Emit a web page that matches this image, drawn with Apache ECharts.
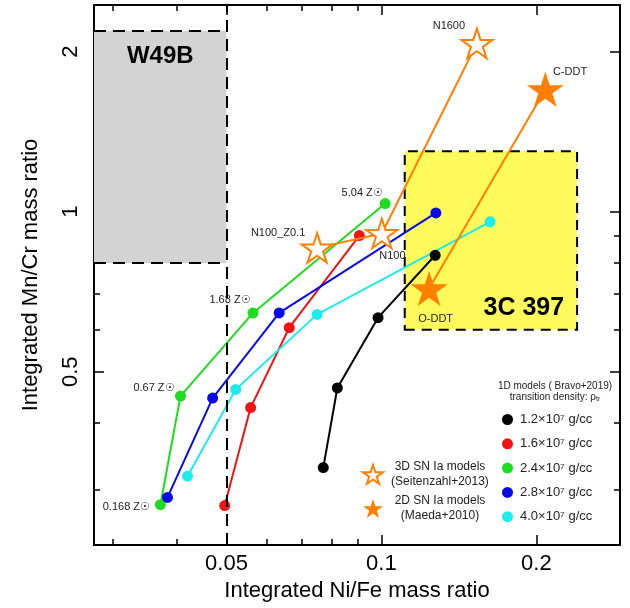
<!DOCTYPE html>
<html><head><meta charset="utf-8">
<script src="https://cdn.jsdelivr.net/npm/echarts@6/dist/echarts.min.js"></script>
<style>html,body{margin:0;padding:0;background:#fff}#c{width:630px;height:608px}</style>
</head><body><div id="c"></div>
<script>
// ---------- data ----------
const xRange = [0.02764, 0.2908];
const yRange = [0.236, 2.449];
const xMajorTicks = [0.05, 0.1, 0.2];
const xMinorTicks = [0.03, 0.04, 0.06, 0.07, 0.08, 0.09];
const yMajorTicks = [0.5, 1, 2];
const yMinorTicks = [0.3, 0.4, 0.6, 0.7, 0.8, 0.9];

const densityNames = ['1.2×10⁷ g/cc', '1.6×10⁷ g/cc', '2.4×10⁷ g/cc', '2.8×10⁷ g/cc', '4.0×10⁷ g/cc'];
const niFe12 = [0.0771, 0.0821, 0.0985, 0.1272];
const mnCr12 = [0.330, 0.466, 0.632, 0.828];
const niFe16 = [0.0496, 0.0557, 0.0662, 0.0906];
const mnCr16 = [0.280, 0.428, 0.605, 0.902];
const niFe24 = [0.0372, 0.0407, 0.0563, 0.1017];
const mnCr24 = [0.281, 0.450, 0.645, 1.036];
const niFe28 = [0.0384, 0.0470, 0.0633, 0.1276];
const mnCr28 = [0.290, 0.446, 0.645, 0.995];
const niFe40 = [0.0420, 0.0521, 0.0750, 0.1626];
const mnCr40 = [0.318, 0.463, 0.641, 0.957];
const metallicityLabels = ['0.168 Z☉', '0.67 Z☉', '1.68 Z☉', '5.04 Z☉'];

const models3DName = '3D SN Ia models\n(Seitenzahl+2013)';
const models3DLabels = ['N100_Z0.1', 'N100', 'N1600'];
const models3DNiFe = [0.0750, 0.1002, 0.1533];
const models3DMnCr = [0.855, 0.910, 2.074];
const models2DName = '2D SN Ia models\n(Maeda+2010)';
const models2DLabels = ['O-DDT', 'C-DDT'];
const models2DNiFe = [0.1238, 0.2082];
const models2DMnCr = [0.717, 1.699];

const w49bName = 'W49B';
const w49bNiFe = [xRange[0], 0.05];
const w49bMnCr = [0.80, 2.19];
const c397Name = '3C 397';
const c397NiFe = [0.111, 0.240];
const c397MnCr = [0.60, 1.30];

// ---------- styles ----------
const FONT = 'Liberation Sans';
const densityColors = ['#000000', '#f01414', '#1edc1e', '#0a0ae6', '#1eebeb'];
const ORANGE = '#ff8000';
const STAR = 'path://M50 0 L61.23 34.55 L97.55 34.55 L68.17 55.9 L79.39 90.45 L50 69.1 L20.61 90.45 L31.83 55.9 L2.45 34.55 L38.77 34.55 Z';
const zOffsets = [[-34, 2], [-26.5, -8], [-23, -12.7], [-23, -11]];
const off3D = [[-39, -15], [10.5, 22.7], [-28, -17.6]];
const off2D = [[6.5, 30], [24.7, -17.6]];
const annot = {show: true, position: 'inside', fontSize: 11, color: '#222', fontFamily: FONT, textBorderWidth: 0};

const densityData = [[niFe12, mnCr12], [niFe16, mnCr16], [niFe24, mnCr24], [niFe28, mnCr28], [niFe40, mnCr40]];

function xAxisDef(pos, ticks, len, major) {
  return {
    type: 'log', position: pos, min: xRange[0], max: xRange[1],
    axisLine: {show: major, onZero: false, lineStyle: {color: '#000', width: 2}},
    axisTick: {show: true, inside: true, length: len, customValues: ticks, lineStyle: {color: '#000', width: 1.5}},
    axisLabel: (pos === 'bottom' && major) ? {show: true, customValues: ticks, fontSize: 22, color: '#000', fontFamily: FONT, margin: 8,
      formatter: v => String(+(+v).toPrecision(3))} : {show: false},
    splitLine: {show: false}, minorTick: {show: false}
  };
}
function yAxisDef(pos, ticks, len, major) {
  return {
    type: 'log', position: pos, min: yRange[0], max: yRange[1],
    axisLine: {show: major, onZero: false, lineStyle: {color: '#000', width: 2}},
    axisTick: {show: true, inside: true, length: len, customValues: ticks, lineStyle: {color: '#000', width: 1.5}},
    axisLabel: (pos === 'left' && major) ? {show: true, customValues: ticks, rotate: 90, fontSize: 22, color: '#000', fontFamily: FONT, margin: 12,
      formatter: v => String(+(+v).toPrecision(3))} : {show: false},
    splitLine: {show: false}, minorTick: {show: false}
  };
}

const xAxes = [xAxisDef('bottom', xMajorTicks, 10, true), xAxisDef('bottom', xMinorTicks, 6, false),
               xAxisDef('top', xMajorTicks, 10, true), xAxisDef('top', xMinorTicks, 6, false)];
xAxes[0].name = 'Integrated Ni/Fe mass ratio';
xAxes[0].nameLocation = 'middle';
xAxes[0].nameGap = 32;
xAxes[0].nameTextStyle = {fontSize: 22, color: '#000', fontFamily: FONT};
const yAxes = [yAxisDef('left', yMajorTicks, 10, true), yAxisDef('left', yMinorTicks, 6, false),
               yAxisDef('right', yMajorTicks, 10, true), yAxisDef('right', yMinorTicks, 6, false)];
yAxes[0].name = 'Integrated Mn/Cr mass ratio';
yAxes[0].nameLocation = 'middle';
yAxes[0].nameGap = 52;
yAxes[0].nameTextStyle = {fontSize: 22, color: '#000', fontFamily: FONT};

const series = [];
// region boxes + dashed line
series.push({
  type: 'line', name: 'regions', data: [], xAxisIndex: 0, yAxisIndex: 0, z: 1, silent: true,
  markArea: {
    silent: true,
    data: [
      [{coord: [w49bNiFe[0], w49bMnCr[0]], itemStyle: {color: '#d3d3d3', borderWidth: 0},
        label: {show: true, position: 'insideTop', distance: 14, formatter: w49bName, fontSize: 24, fontWeight: 'bold', color: '#000', fontFamily: FONT}},
       {coord: [w49bNiFe[1], w49bMnCr[1]]}],
      [{coord: [c397NiFe[0], c397MnCr[0]], itemStyle: {color: '#fffa5c', borderColor: '#000', borderWidth: 2, borderType: [10, 7]},
        label: {show: true, position: 'insideBottomRight', distance: 10, offset: [-4, 0], formatter: c397Name, fontSize: 25, fontWeight: 'bold', color: '#000', fontFamily: FONT}},
       {coord: [c397NiFe[1], c397MnCr[1]]}]
    ]
  },
  markLine: {
    silent: true, symbol: 'none', label: {show: false},
    lineStyle: {color: '#000', width: 2, type: [12, 7]},
    data: [
      {xAxis: w49bNiFe[1]},
      [{coord: [w49bNiFe[0], w49bMnCr[1]]}, {coord: [w49bNiFe[1], w49bMnCr[1]]}],
      [{coord: [w49bNiFe[0], w49bMnCr[0]]}, {coord: [w49bNiFe[1], w49bMnCr[0]]}]
    ]
  }
});
densityData.forEach((d, i) => {
  series.push({
    type: 'line', name: densityNames[i], xAxisIndex: 0, yAxisIndex: 0, z: 3,
    symbol: 'circle', symbolSize: 11, showSymbol: true,
    itemStyle: {color: densityColors[i]}, lineStyle: {color: densityColors[i], width: 2},
    data: d[0].map((x, j) => {
      const item = {value: [x, d[1][j]]};
      if (i === 2) item.label = Object.assign({}, annot, {formatter: metallicityLabels[j], offset: zOffsets[j]});
      return item;
    })
  });
});
series.push({
  type: 'line', name: models3DName, xAxisIndex: 0, yAxisIndex: 0, z: 4,
  symbol: STAR, symbolSize: 31, symbolKeepAspect: true,
  itemStyle: {color: '#ffffff', borderColor: ORANGE, borderWidth: 2},
  lineStyle: {color: ORANGE, width: 2},
  data: models3DNiFe.map((x, j) => ({value: [x, models3DMnCr[j]],
    label: Object.assign({}, annot, {formatter: models3DLabels[j], offset: off3D[j]})}))
});
series.push({
  type: 'line', name: models2DName, xAxisIndex: 0, yAxisIndex: 0, z: 4,
  symbol: STAR, symbolSize: 37, symbolKeepAspect: true,
  itemStyle: {color: ORANGE},
  lineStyle: {color: ORANGE, width: 2},
  data: models2DNiFe.map((x, j) => ({value: [x, models2DMnCr[j]],
    label: Object.assign({}, annot, {formatter: models2DLabels[j], offset: off2D[j]})}))
});

const option = {
  animation: false,
  textStyle: {fontFamily: FONT},
  grid: {left: 94, right: 10, top: 5, bottom: 63, containLabel: false},
  title: {
    left: 555, top: 381, textAlign: 'center', itemGap: 0, padding: 0,
    text: '1D models ( Bravo+2019)\n{n|transition density: ρ}{s|tr}',
    textStyle: {fontSize: 10, fontWeight: 'normal', color: '#222', fontFamily: FONT, lineHeight: 11,
      rich: {n: {fontSize: 10, color: '#222', fontFamily: FONT, lineHeight: 11},
             s: {fontSize: 7, color: '#222', fontFamily: FONT, lineHeight: 11, verticalAlign: 'bottom'}}}
  },
  legend: [
    {
      data: densityNames.map(n => ({name: n, icon: 'circle'})),
      orient: 'vertical', left: 502, top: 413, itemGap: 11.3, itemWidth: 11, itemHeight: 11, padding: 0,
      lineStyle: {opacity: 0, width: 0}, selectedMode: false,
      textStyle: {fontSize: 13, color: '#222', fontFamily: FONT, padding: [0, 0, 0, 2]}
    },
    {
      data: [{name: models3DName, icon: STAR}, {name: models2DName, icon: STAR}],
      orient: 'vertical', left: 362, top: 461, itemGap: 7, itemWidth: 20, itemHeight: 19, padding: 0,
      lineStyle: {opacity: 0, width: 0}, selectedMode: false,
      formatter: n => n.split('\n').map(s => '{c|' + s + '}').join('\n'),
      textStyle: {fontSize: 12, color: '#222', fontFamily: FONT,
        rich: {c: {fontSize: 12, color: '#222', fontFamily: FONT, width: 104, align: 'center', lineHeight: 15}}}
    }
  ],
  xAxis: xAxes,
  yAxis: yAxes,
  series: series
};
const chart = echarts.init(document.getElementById('c'), null, {renderer: 'canvas'});
chart.setOption(option);
</script></body></html>
